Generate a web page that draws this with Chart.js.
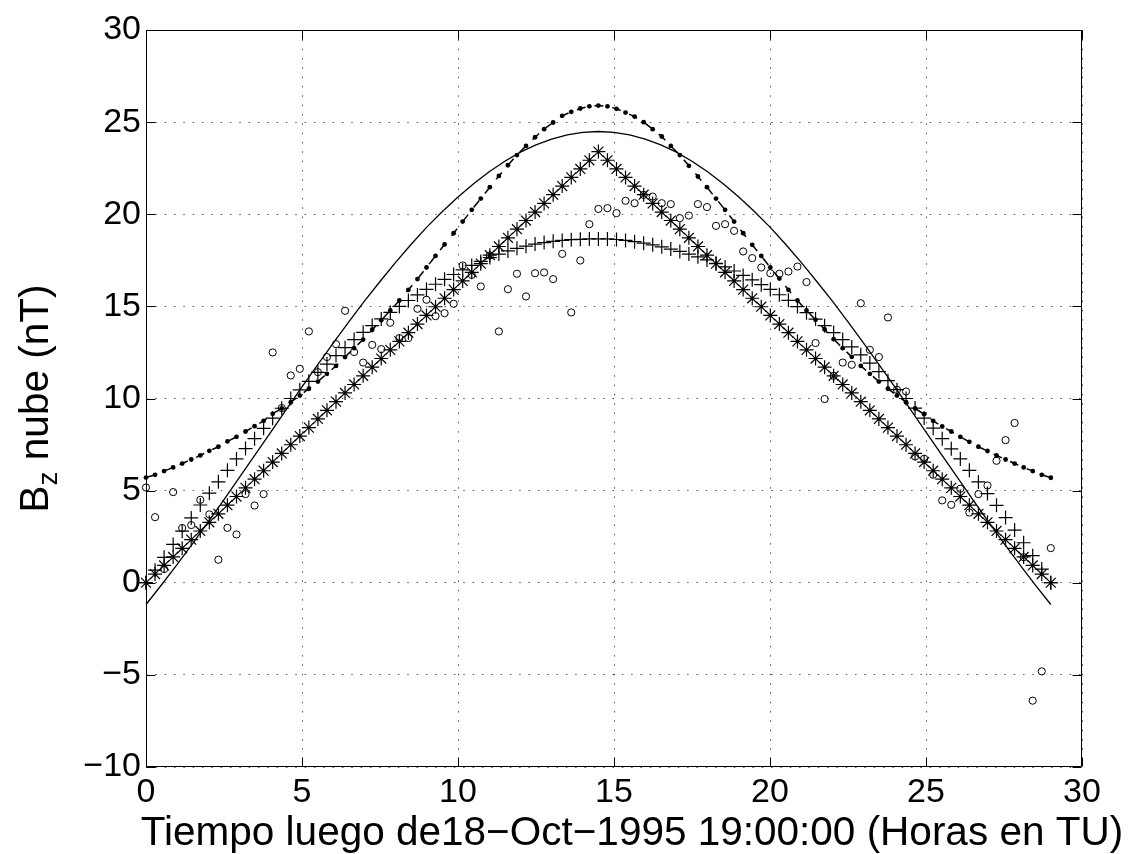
<!DOCTYPE html>
<html>
<head>
<meta charset="utf-8">
<title>Bz nube</title>
<script src="https://cdn.jsdelivr.net/npm/chart.js@4.4.1/dist/chart.umd.min.js"></script>
<style>
  html, body { margin: 0; padding: 0; background: #fff; }
  canvas { display: block; }
</style>
</head>
<body>
<canvas id="bz-chart" width="1128" height="854"></canvas>
<script>
// sample times (hours after 18-Oct-1995 19:00 UT)
const hours = [
  0, 0.29, 0.58, 0.87, 1.16, 1.45, 1.74, 2.03, 2.32, 2.61,
  2.9, 3.19, 3.48, 3.77, 4.06, 4.35, 4.64, 4.93, 5.22, 5.51,
  5.8, 6.09, 6.38, 6.67, 6.96, 7.25, 7.54, 7.83, 8.12, 8.41,
  8.7, 8.99, 9.28, 9.57, 9.86, 10.15, 10.44, 10.73, 11.02, 11.31,
  11.6, 11.89, 12.18, 12.47, 12.76, 13.05, 13.34, 13.63, 13.92, 14.21,
  14.5, 14.79, 15.08, 15.37, 15.66, 15.95, 16.24, 16.53, 16.82, 17.11,
  17.4, 17.69, 17.98, 18.27, 18.56, 18.85, 19.14, 19.43, 19.72, 20.01,
  20.3, 20.59, 20.88, 21.17, 21.46, 21.75, 22.04, 22.33, 22.62, 22.91,
  23.2, 23.49, 23.78, 24.07, 24.36, 24.65, 24.94, 25.23, 25.52, 25.81,
  26.1, 26.39, 26.68, 26.97, 27.26, 27.55, 27.84, 28.13, 28.42, 28.71,
  29
];

// measured Bz (open circles)
const bzObserved = [
  5.17, 3.56, 0.74, 4.92, 2.97, 3.13, 4.50, 3.71, 1.25, 2.98,
  2.62, 4.81, 4.19, 4.81, 12.50, 9.48, 11.25, 11.61, 13.64, 11.43,
  12.25, 12.95, 14.76, 12.52, 11.95, 12.91, 12.68, 14.11, 13.28, 13.28,
  14.87, 15.36, 14.47, 14.63, 15.14, 17.22, 16.71, 16.08, 17.76, 13.64,
  15.93, 16.77, 15.54, 16.80, 16.84, 16.48, 17.85, 14.67, 17.49, 19.46,
  20.29, 20.33, 20.06, 20.73, 20.60, 21.05, 20.96, 20.60, 20.55, 19.79,
  19.93, 20.55, 20.39, 19.37, 19.46, 19.10, 17.98, 17.62, 17.11, 16.80,
  16.77, 16.89, 17.16, 16.32, 13.01, 9.97, 11.23, 11.95, 11.83, 15.17,
  12.64, 12.25, 14.40, 10.47, 10.38, 6.85, 6.73, 5.86, 4.47, 4.23,
  5.10, 3.81, 4.81, 5.28, 6.62, 7.74, 8.67, 1.39, -6.40, -4.81,
  1.88
];

// model with dots joined by a dashed line
const bzModelDots = [
  5.71, 5.86, 6.06, 6.26, 6.47, 6.69, 6.91, 7.16, 7.38, 7.67,
  7.92, 8.21, 8.50, 8.79, 9.17, 9.46, 9.80, 10.16, 10.53, 10.92,
  11.34, 11.77, 12.25, 12.73, 13.20, 13.73, 14.25, 14.78, 15.32, 15.90,
  16.48, 17.11, 17.74, 18.36, 18.97, 19.60, 20.24, 20.85, 21.47, 22.08,
  22.66, 23.21, 23.71, 24.18, 24.62, 24.98, 25.34, 25.56, 25.74, 25.86,
  25.90, 25.86, 25.72, 25.52, 25.30, 25.00, 24.62, 24.22, 23.71, 23.21,
  22.63, 22.05, 21.47, 20.85, 20.24, 19.60, 18.97, 18.34, 17.74, 17.11,
  16.51, 15.90, 15.32, 14.78, 14.27, 13.75, 13.22, 12.73, 12.26, 11.77,
  11.34, 10.92, 10.53, 10.16, 9.80, 9.46, 9.15, 8.79, 8.48, 8.21,
  7.92, 7.65, 7.38, 7.15, 6.91, 6.69, 6.47, 6.26, 6.06, 5.86,
  5.70
];

// model drawn with '+'
const bzModelPlus = [
  0, 0.68, 1.38, 2.08, 2.80, 3.52, 4.22, 4.86, 5.48, 6.10,
  6.72, 7.28, 7.82, 8.38, 8.93, 9.47, 10.00, 10.47, 10.93, 11.42,
  11.87, 12.33, 12.76, 13.20, 13.59, 13.96, 14.32, 14.67, 15.00, 15.32,
  15.62, 15.92, 16.20, 16.47, 16.73, 16.98, 17.22, 17.44, 17.65, 17.84,
  18.01, 18.15, 18.27, 18.38, 18.46, 18.53, 18.58, 18.62, 18.64, 18.66,
  18.66, 18.66, 18.63, 18.58, 18.51, 18.43, 18.34, 18.23, 18.11, 17.98,
  17.84, 17.69, 17.52, 17.34, 17.14, 16.92, 16.68, 16.44, 16.18, 15.92,
  15.63, 15.33, 14.99, 14.66, 14.31, 13.95, 13.58, 13.20, 12.80, 12.37,
  11.92, 11.46, 10.97, 10.48, 10.00, 9.48, 8.94, 8.39, 7.82, 7.27,
  6.72, 6.10, 5.47, 4.84, 4.20, 3.54, 2.86, 2.17, 1.47, 0.74,
  0
];

// model drawn with '*'
const bzModelStar = [
  0, 0.47, 0.94, 1.40, 1.87, 2.34, 2.81, 3.28, 3.74, 4.21,
  4.68, 5.15, 5.62, 6.08, 6.55, 7.02, 7.49, 7.96, 8.42, 8.89,
  9.36, 9.83, 10.30, 10.76, 11.23, 11.70, 12.17, 12.64, 13.10, 13.57,
  14.04, 14.51, 14.98, 15.44, 15.91, 16.38, 16.85, 17.32, 17.78, 18.25,
  18.72, 19.19, 19.66, 20.12, 20.59, 21.06, 21.53, 22.00, 22.46, 22.93,
  23.40, 22.93, 22.46, 22.00, 21.53, 21.06, 20.59, 20.12, 19.66, 19.19,
  18.72, 18.25, 17.78, 17.32, 16.85, 16.38, 15.91, 15.44, 14.98, 14.51,
  14.04, 13.57, 13.10, 12.64, 12.17, 11.70, 11.23, 10.76, 10.30, 9.83,
  9.36, 8.89, 8.42, 7.96, 7.49, 7.02, 6.55, 6.08, 5.62, 5.15,
  4.68, 4.21, 3.74, 3.28, 2.81, 2.34, 1.87, 1.40, 0.94, 0.47,
  0
];

// smooth fit (solid line)
const fitHours = [
  0, 0.5, 1, 1.5, 2, 2.5, 3, 3.5, 4, 4.5, 5, 5.5, 6, 6.5, 7, 7.5, 8, 8.5, 9, 9.5,
  10, 10.5, 11, 11.5, 12, 12.5, 13, 13.5, 14, 14.5, 15, 15.5, 16, 16.5, 17, 17.5,
  18, 18.5, 19, 19.5, 20, 20.5, 21, 21.5, 22, 22.5, 23, 23.5, 24, 24.5, 25, 25.5,
  26, 26.5, 27, 27.5, 28, 28.5, 29
];
const bzFit = [
  -1.18, -0.11, 1.00, 2.14, 3.32, 4.51, 5.73, 6.95, 8.18, 9.41,
  10.63, 11.83, 13.01, 14.16, 15.28, 16.35, 17.39, 18.37, 19.30, 20.15,
  20.94, 21.66, 22.31, 22.88, 23.37, 23.77, 24.08, 24.31, 24.44, 24.49,
  24.44, 24.31, 24.08, 23.77, 23.37, 22.88, 22.31, 21.66, 20.94, 20.15,
  19.30, 18.37, 17.39, 16.35, 15.28, 14.16, 13.01, 11.83, 10.63, 9.41,
  8.18, 6.95, 5.73, 4.51, 3.32, 2.14, 1.00, -0.11, -1.18
];

const xTickValues = [0, 5, 10, 15, 20, 25, 30];
const yTickValues = [-10, -5, 0, 5, 10, 15, 20, 25, 30];
const xTitle = 'Tiempo luego de18\u2212Oct\u22121995 19:00:00 (Horas en TU)';

const FONT = '"Liberation Sans", Arial, Helvetica, sans-serif';
const pts = (xs, ys) => xs.map((x, i) => ({ x: x, y: ys[i] }));
const minus = v => String(v).replace('-', '\u2212');

// MATLAB-like box: frame, inward ticks on all four sides, axis labels
const boxAxes = {
  id: 'boxAxes',
  afterDatasetsDraw(chart) {
    const { ctx, chartArea: a, scales: { x, y } } = chart;
    const L = Math.round(a.left) + 0.5, R = Math.round(a.right) - 0.5;
    const T = Math.round(a.top) + 0.5, B = Math.round(a.bottom) - 0.5;
    const tick = 9;
    ctx.save();
    ctx.strokeStyle = '#000';
    ctx.lineWidth = 1;
    ctx.beginPath();
    ctx.rect(L, T, R - L, B - T);
    xTickValues.forEach(v => {
      const px = Math.round(x.getPixelForValue(v)) + 0.5;
      ctx.moveTo(px, B); ctx.lineTo(px, B - tick);
      ctx.moveTo(px, T); ctx.lineTo(px, T + tick);
    });
    yTickValues.forEach(v => {
      const py = Math.round(y.getPixelForValue(v)) + 0.5;
      ctx.moveTo(L, py); ctx.lineTo(L + tick, py);
      ctx.moveTo(R, py); ctx.lineTo(R - tick, py);
    });
    ctx.stroke();

    const big = '40.5px ' + FONT, small = '28px ' + FONT;
    ctx.fillStyle = '#000';
    ctx.textBaseline = 'alphabetic';

    // x label
    ctx.font = big;
    ctx.textAlign = 'center';
    ctx.fillText(xTitle, 632, 845);

    // "B_z nube (nT)" rotated
    ctx.translate(48, (a.top + a.bottom) / 2);
    ctx.rotate(-Math.PI / 2);
    ctx.textAlign = 'left';
    const wB = ctx.measureText('B').width;
    const wRest = ctx.measureText(' nube (nT)').width;
    ctx.font = small;
    const wZ = ctx.measureText('z').width;
    let cx = -(wB + wZ + wRest) / 2;
    ctx.font = big;
    ctx.fillText('B', cx, 0);
    cx += wB;
    ctx.font = small;
    ctx.fillText('z', cx, 9);
    cx += wZ;
    ctx.font = big;
    ctx.fillText(' nube (nT)', cx, 0);
    ctx.restore();
  }
};

const ctx = document.getElementById('bz-chart').getContext('2d');
new Chart(ctx, {
  type: 'scatter',
  data: {
    datasets: [
      {
        label: 'ajuste',
        data: pts(fitHours, bzFit),
        showLine: true,
        borderColor: '#000',
        borderWidth: 1.3,
        pointRadius: 0,
        tension: 0,
        clip: false
      },
      {
        label: 'modelo puntos',
        data: pts(hours, bzModelDots),
        showLine: true,
        borderColor: '#000',
        borderWidth: 1.5,
        borderDash: [9, 9],
        pointStyle: 'circle',
        pointRadius: 2.4,
        pointBackgroundColor: '#000',
        pointBorderColor: '#000',
        pointBorderWidth: 0,
        clip: false
      },
      {
        label: 'modelo +',
        data: pts(hours, bzModelPlus),
        showLine: false,
        pointStyle: 'cross',
        pointRadius: 7,
        pointBorderColor: '#000',
        pointBorderWidth: 1.2,
        clip: false
      },
      {
        label: 'modelo *',
        data: pts(hours, bzModelStar),
        showLine: false,
        pointStyle: 'star',
        pointRadius: 7,
        pointBorderColor: '#000',
        pointBorderWidth: 1.2,
        clip: false
      },
      {
        label: 'observado',
        data: pts(hours, bzObserved),
        showLine: false,
        pointStyle: 'circle',
        pointRadius: 3.6,
        pointBackgroundColor: 'rgba(0,0,0,0)',
        pointBorderColor: '#000',
        pointBorderWidth: 1,
        clip: false
      }
    ]
  },
  options: {
    responsive: false,
    animation: false,
    events: [],
    layout: { padding: { left: 0, right: 46, top: 30, bottom: 0 } },
    plugins: {
      legend: { display: false },
      tooltip: { enabled: false }
    },
    scales: {
      x: {
        type: 'linear',
        min: 0,
        max: 30,
        afterBuildTicks: s => { s.ticks = xTickValues.map(v => ({ value: v })); },
        afterFit: s => { s.height = 87; },
        grid: { color: '#555', lineWidth: 1, drawTicks: false },
        border: { display: false, dash: [1.5, 7.83] },
        ticks: {
          color: '#000',
          padding: 5,
          maxRotation: 0,
          font: { family: FONT, size: 34 },
          callback: v => minus(v)
        }
      },
      y: {
        type: 'linear',
        min: -10,
        max: 30,
        afterBuildTicks: s => { s.ticks = yTickValues.map(v => ({ value: v })); },
        afterFit: s => { s.width = 146; },
        grid: { color: '#555', lineWidth: 1, drawTicks: false },
        border: { display: false, dash: [1.5, 7.83] },
        ticks: {
          color: '#000',
          padding: 5,
          font: { family: FONT, size: 34 },
          callback: v => minus(v)
        }
      }
    }
  },
  plugins: [boxAxes]
});
</script>
</body>
</html>
